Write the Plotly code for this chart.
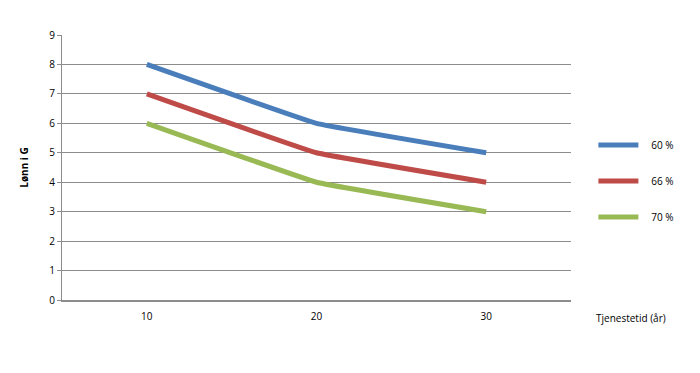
import plotly.graph_objects as go

years = [10, 20, 30]
series_names = ["60 %", "66 %", "70 %"]
v60 = [8, 6, 5]
v66 = [7, 5, 4]
v70 = [6, 4, 3]
colors = ["#4A7EBB", "#BE4B48", "#98B954"]
y_ticks = [0, 1, 2, 3, 4, 5, 6, 7, 8, 9]

fig = go.Figure()
for i, (name, vals) in enumerate(zip(series_names, [v60, v66, v70])):
    fig.add_trace(go.Scatter(
        x=[str(y) for y in years], y=vals, name="\u00a0\u00a0\u00a0" + name, mode="lines",
        line=dict(color=colors[i], width=5, shape="spline", smoothing=0.2),
        legendgroup=name,
    ))

font = "Open Sans, Liberation Sans, sans-serif"
fig.update_layout(
    width=700, height=373,
    margin=dict(l=62, r=129, t=35, b=73),
    paper_bgcolor="white", plot_bgcolor="white",
    font=dict(family=font, size=10, color="#000"),
    showlegend=True,
    legend=dict(x=1.044, y=0.449, xanchor="left", yanchor="middle",
                tracegroupgap=17, font=dict(size=10, family=font),
                itemwidth=40),
    xaxis=dict(type="category", range=[-0.5, 2.5], showgrid=False,
               showline=True, linecolor="#8c8c8c", linewidth=1.5,
               ticks="", tickfont=dict(size=10), ticklabelstandoff=6),
    yaxis=dict(range=[0, 9], tickvals=y_ticks, showgrid=True,
               gridcolor="#8c8c8c", gridwidth=1, zeroline=False,
               showline=True, linecolor="#8c8c8c", linewidth=1,
               ticks="outside", ticklen=4, tickcolor="#8c8c8c",
               tickfont=dict(size=10),
               title=dict(text="<b>Lønn i G</b>", font=dict(size=10), standoff=18)),
    annotations=[dict(text="Tjenestetid (år)", xref="paper", yref="paper",
                      x=1.045, y=-0.035, xanchor="left", yanchor="top",
                      showarrow=False, font=dict(size=10))],
)
fig.write_html("out.html")
